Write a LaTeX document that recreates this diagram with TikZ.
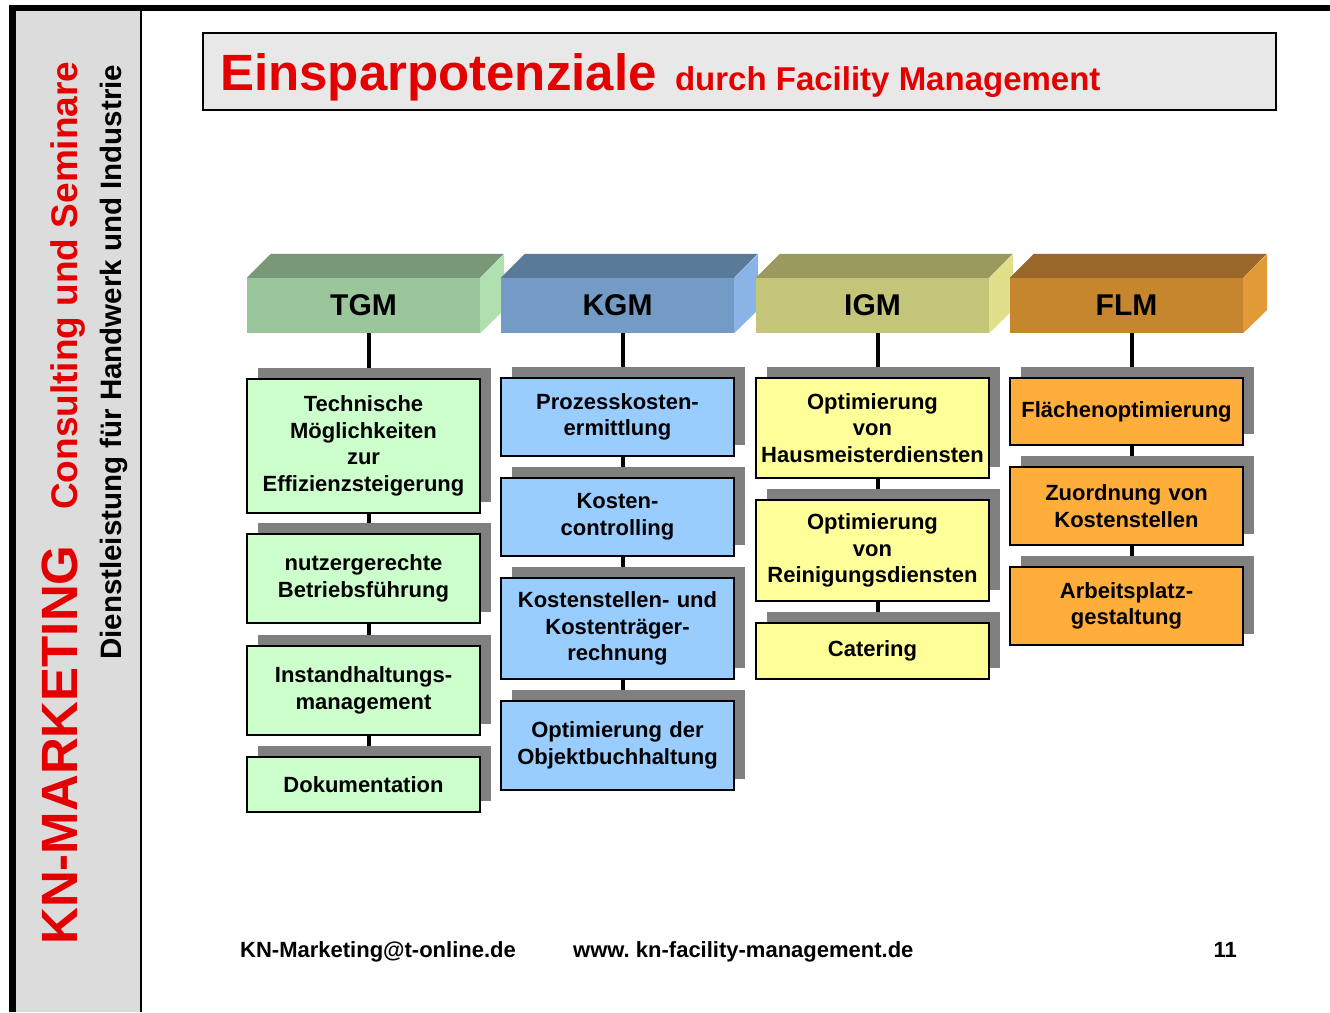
\documentclass[tikz,border=0pt]{standalone}
\usepackage{fontspec}
\setmainfont{Liberation Sans}
\usetikzlibrary{shadows,backgrounds,positioning}
\frenchspacing

\definecolor{knred}{RGB}{228,0,0}
\definecolor{sidegray}{RGB}{220,220,220}
\definecolor{titlegray}{RGB}{232,232,232}
\definecolor{shadegray}{RGB}{128,128,128}
\definecolor{fronttgm}{RGB}{155,197,155}
\definecolor{toptgm}{RGB}{120,152,120}
\definecolor{sidetgm}{RGB}{176,224,176}
\definecolor{frontkgm}{RGB}{115,155,197}
\definecolor{topkgm}{RGB}{90,122,154}
\definecolor{sidekgm}{RGB}{138,180,230}
\definecolor{frontigm}{RGB}{197,197,122}
\definecolor{topigm}{RGB}{154,154,94}
\definecolor{sideigm}{RGB}{224,224,140}
\definecolor{frontflm}{RGB}{197,134,46}
\definecolor{topflm}{RGB}{153,103,42}
\definecolor{sideflm}{RGB}{224,154,54}
\definecolor{boxtgm}{RGB}{204,255,204}
\definecolor{boxkgm}{RGB}{153,204,255}
\definecolor{boxigm}{RGB}{255,255,153}
\definecolor{boxflm}{RGB}{255,173,59}

\tikzset{
  head/.style={minimum width=233pt, minimum height=55pt, inner sep=0pt,
    font=\fontsize{30}{30}\selectfont\bfseries},
  item/.style={draw=black, line width=1.5pt, minimum width=233pt, text width=231pt,
    inner sep=0pt, align=center, font=\fontsize{22}{26.5}\selectfont\bfseries,
    drop shadow={shadow xshift=11pt, shadow yshift=11pt, fill=shadegray, opacity=1}},
  link/.style={line width=4pt},
  foot/.style={anchor=base west, inner sep=0pt, font=\fontsize{22}{22}\selectfont\bfseries},
}

\begin{document}
\begin{tikzpicture}[x=1pt,y=-1pt]
  \useasboundingbox (0,0) rectangle (1330,1012);
  % frame and side bar
  \fill[black] (9,5) rectangle (1330,11);
  \fill[black] (9,5) rectangle (16,1012);
  \fill[sidegray] (16,11) rectangle (141,1012);
  \draw[line width=1.5pt] (141,11) -- (141,1012);
  \node[rotate=90, anchor=base west, inner sep=0pt, text=knred,
    font=\fontsize{51}{51}\selectfont\bfseries] (brand) at (77,945) {KN-MARKETING};
  \node[rotate=90, anchor=base west, inner sep=0pt, text=knred,
    font=\fontsize{37}{37}\selectfont\bfseries] (slogan) at (77,510) {Consulting und Seminare};
  \node[rotate=90, anchor=base west, inner sep=0pt,
    font=\fontsize{29.5}{29.5}\selectfont\bfseries] (service) at (121,660) {Dienstleistung für Handwerk und Industrie};

  % title
  \draw[fill=titlegray, line width=1.5pt] (203,33) rectangle (1276,110);
  \node[anchor=base west, inner sep=0pt, text=knred,
    font=\fontsize{51}{51}\selectfont\bfseries] (title) at (220,90) {Einsparpotenziale};
  \node[inner sep=0pt, text=knred, base right=18pt of title,
    font=\fontsize{33}{33}\selectfont\bfseries] (subtitle) {durch Facility Management};

  % column heads
  \foreach \n/\lbl/\cx in {tgm/TGM/363.5, kgm/KGM/617.5, igm/IGM/872.5, flm/FLM/1126.5}{
    \node[head, fill=front\n] (\n) at (\cx,305.5) {\lbl};
    \fill[top\n] (\n.north west) -- ++(24,-24) -- ++(233,0) -- (\n.north east) -- cycle;
    \fill[side\n] (\n.north east) -- ++(24,-24) -- ++(0,56) -- (\n.south east) -- cycle;
  }

  % TGM
  \node[item, fill=boxtgm, minimum height=134pt] (t1) at (363.5,446) {Technische\\Möglichkeiten\\zur\\Effizienzsteigerung};
  \node[item, fill=boxtgm, minimum height=89pt] (t2) at (363.5,578.5) {nutzergerechte\\Betriebsführung};
  \node[item, fill=boxtgm, minimum height=89pt] (t3) at (363.5,690.5) {Instandhaltungs-\\management};
  \node[item, fill=boxtgm, minimum height=55pt] (t4) at (363.5,784.5) {Dokumentation};
  % KGM
  \node[item, fill=boxkgm, minimum height=78pt] (k1) at (617.5,417) {Prozesskosten-\\ermittlung};
  \node[item, fill=boxkgm, minimum height=78pt] (k2) at (617.5,517) {Kosten-\\controlling};
  \node[item, fill=boxkgm, minimum height=101pt] (k3) at (617.5,628.5) {Kostenstellen- und\\Kostenträger-\\rechnung};
  \node[item, fill=boxkgm, minimum height=89pt] (k4) at (617.5,745.5) {Optimierung der\\Objektbuchhaltung};
  % IGM
  \node[item, fill=boxigm, minimum height=100pt] (i1) at (872.5,428) {Optimierung\\von\\Hausmeisterdiensten};
  \node[item, fill=boxigm, minimum height=101pt] (i2) at (872.5,550.5) {Optimierung\\von\\Reinigungsdiensten};
  \node[item, fill=boxigm, minimum height=56pt] (i3) at (872.5,651) {Catering};
  % FLM
  \node[item, fill=boxflm, minimum height=67pt] (f1) at (1126.5,411.5) {Flächenoptimierung};
  \node[item, fill=boxflm, minimum height=78pt] (f2) at (1126.5,506) {Zuordnung von\\Kostenstellen};
  \node[item, fill=boxflm, minimum height=78pt] (f3) at (1126.5,606) {Arbeitsplatz-\\gestaltung};

  \begin{scope}[on background layer]
    \foreach \a/\b in {tgm/t1, t1/t2, t2/t3, t3/t4, kgm/k1, k1/k2, k2/k3, k3/k4,
                       igm/i1, i1/i2, i2/i3, flm/f1, f1/f2, f2/f3}
      \draw[link] ([xshift=5.5pt]\a.south) -- ([xshift=5.5pt]\b.north);
  \end{scope}

  % footer
  \node[foot] (mail) at (240,957) {KN-Marketing@t-online.de};
  \node[foot] (web) at (573,957) {www. kn-facility-management.de};
  \node[foot, anchor=base east] (page) at (1237,957) {11};
\end{tikzpicture}
\end{document}
